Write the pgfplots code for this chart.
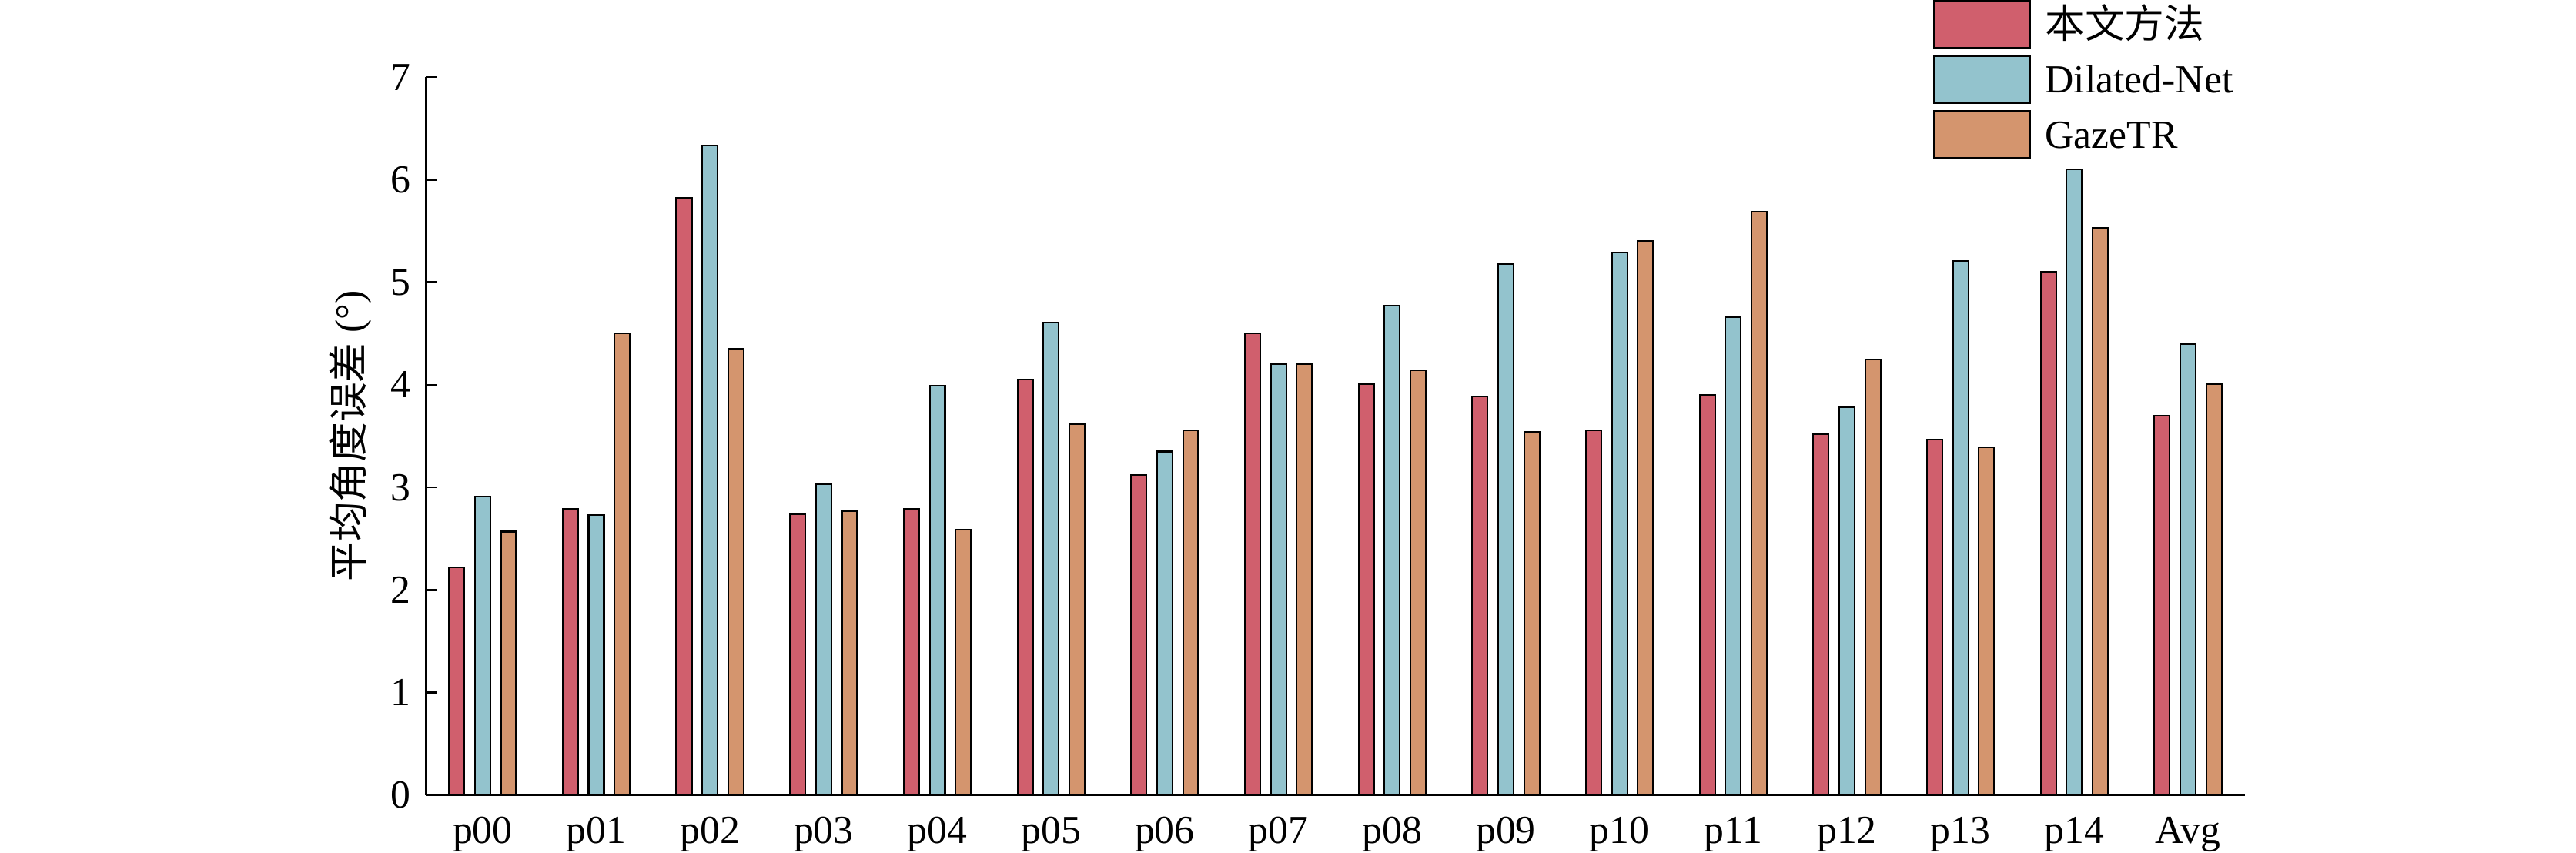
\documentclass[border=0pt]{standalone}
\usepackage{pgfplots}
\pgfplotsset{compat=1.18}
\usepackage{fontspec}
\setmainfont{Liberation Serif}
\newfontfamily\cjk{Noto Sans CJK SC}
\definecolor{cRed}{HTML}{D05F6D}
\definecolor{cBlue}{HTML}{93C3CD}
\definecolor{cOrange}{HTML}{D4956E}
\pgfplotstableread{
x  ours  dil   gaze
0  2.22  2.91  2.57
1  2.79  2.73  4.50
2  5.82  6.33  4.35
3  2.74  3.03  2.77
4  2.79  3.99  2.59
5  4.05  4.61  3.62
6  3.12  3.35  3.56
7  4.50  4.20  4.20
8  4.01  4.77  4.14
9  3.89  5.18  3.54
10 3.56  5.29  5.40
11 3.90  4.66  5.69
12 3.52  3.78  4.25
13 3.47  5.21  3.39
14 5.10  6.10  5.53
15 3.70  4.40  4.01
}\datatable
\begin{document}
\begin{tikzpicture}
\useasboundingbox (-117.67pt,-15.96pt) rectangle (594.33pt,219.81pt);
\begin{axis}[
  at={(0,0)}, anchor=south west,
  scale only axis,
  width=502.8pt, height=198.5pt,
  ybar,
  bar width=0.135,
  xmin=-0.5, xmax=15.5,
  ymin=0, ymax=7,
  enlargelimits=false,
  axis x line*=bottom,
  axis y line*=left,
  axis line style={-, line width=0.55pt, black},
  xtick=data,
  xticklabels={p00,p01,p02,p03,p04,p05,p06,p07,p08,p09,p10,p11,p12,p13,p14,Avg},
  ytick={0,1,2,3,4,5,6,7},
  tick align=inside,
  major tick length=3pt,
  x tick style={draw=none},
  y tick style={line width=0.55pt, black},
  /pgf/number format/assume math mode=true,
  ticklabel style={font=\fontsize{11}{13}\selectfont},
  xticklabel style={yshift=-2.5pt},
  yticklabel style={xshift=-0.6pt},
  ylabel={{\cjk 平均角度误差} (°)},
  ylabel style={at={(axis description cs:-0.0296,0.5)}, anchor=south, inner sep=0pt, font=\fontsize{11}{13}\selectfont},
  legend style={at={(0.8287,1.1073)}, anchor=north west, draw=none, fill=none,
    inner sep=0pt, outer sep=0pt, row sep=1.7pt, column sep=4pt,
    nodes={inner sep=0pt, anchor=base west},
    font=\fontsize{11}{13}\selectfont},
  legend cell align=left,
  legend image code/.code={\draw[#1, line width=0.55pt] (0pt,-2.86pt) rectangle (26.4pt,10.14pt);},
]
\addplot[fill=cRed, draw=black, line width=0.45pt, bar shift=-0.228] table[x=x,y=ours]{\datatable};
\addlegendentry{{\cjk 本文方法}}
\addplot[fill=cBlue, draw=black, line width=0.45pt, bar shift=0] table[x=x,y=dil]{\datatable};
\addlegendentry{Dilated-Net}
\addplot[fill=cOrange, draw=black, line width=0.45pt, bar shift=0.228] table[x=x,y=gaze]{\datatable};
\addlegendentry{GazeTR}
\end{axis}
\end{tikzpicture}
\end{document}
